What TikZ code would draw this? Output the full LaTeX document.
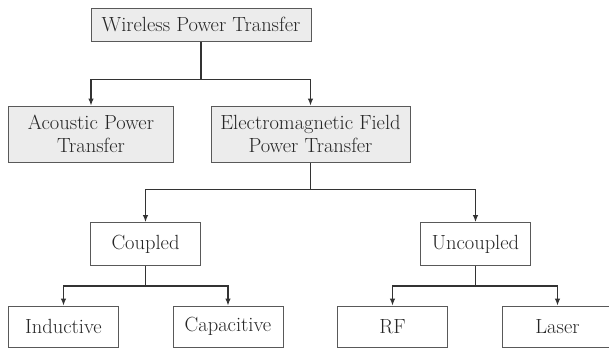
\documentclass[tikz,border=0pt]{standalone}
\usetikzlibrary{arrows.meta, positioning}
\begin{document}
\begin{tikzpicture}[x=1pt, y=-1pt,
  block/.style={rectangle, draw=gray!70!black, line width=1pt, minimum height=43pt,
    minimum width=110pt, inner sep=0pt, align=center, text=black!85,
    font=\fontsize{20.5}{23.5}\selectfont},
  main/.style={block, fill=gray!15},
  arrow/.style={-{Latex[length=7pt, width=5.5pt]}, line width=1.1pt, black!80},
  line/.style={line width=1.1pt, black!80},
]
\useasboundingbox (0,0) rectangle (609,349);

\node[main, minimum width=220pt, minimum height=33pt] (wpt) at (201,24.5) {Wireless Power Transfer};
\node[main, minimum width=165pt, minimum height=56pt] (apt) at (91,134) {Acoustic Power\\Transfer};
\node[main, minimum width=199pt, minimum height=56pt] (emf) at (310.5,134) {Electromagnetic Field\\Power Transfer};
\node[block] (cpl) at (145.5,244) {Coupled};
\node[block] (ucp) at (475.5,244) {Uncoupled};
\node[block, minimum height=41pt] (ind) at (63.5,326.5) {Inductive};
\node[block, minimum height=41pt] (cap) at (228,326.5) {Capacitive};
\node[block, minimum height=41pt] (rf) at (392.5,326.5) {RF};
\node[block, minimum height=41pt] (lsr) at (557.5,326.5) {Laser};

% stems down to the branch points
\draw[line] (wpt.south) -- ++(0,38) coordinate (j1);
\draw[line] (emf.south) -- ++(0,27) coordinate (j2);
\draw[line] (cpl.south) -- ++(0,20) coordinate (j3);
\draw[line] (ucp.south) -- ++(0,20) coordinate (j4);

\draw[arrow] (j1) -| (apt.north);
\draw[arrow] (j1) -| (emf.north);
\draw[arrow] (j2) -| (cpl.north);
\draw[arrow] (j2) -| (ucp.north);
\draw[arrow] (j3) -| (ind.north);
\draw[arrow] (j3) -| (cap.north);
\draw[arrow] (j4) -| (rf.north);
\draw[arrow] (j4) -| (lsr.north);
\end{tikzpicture}
\end{document}
